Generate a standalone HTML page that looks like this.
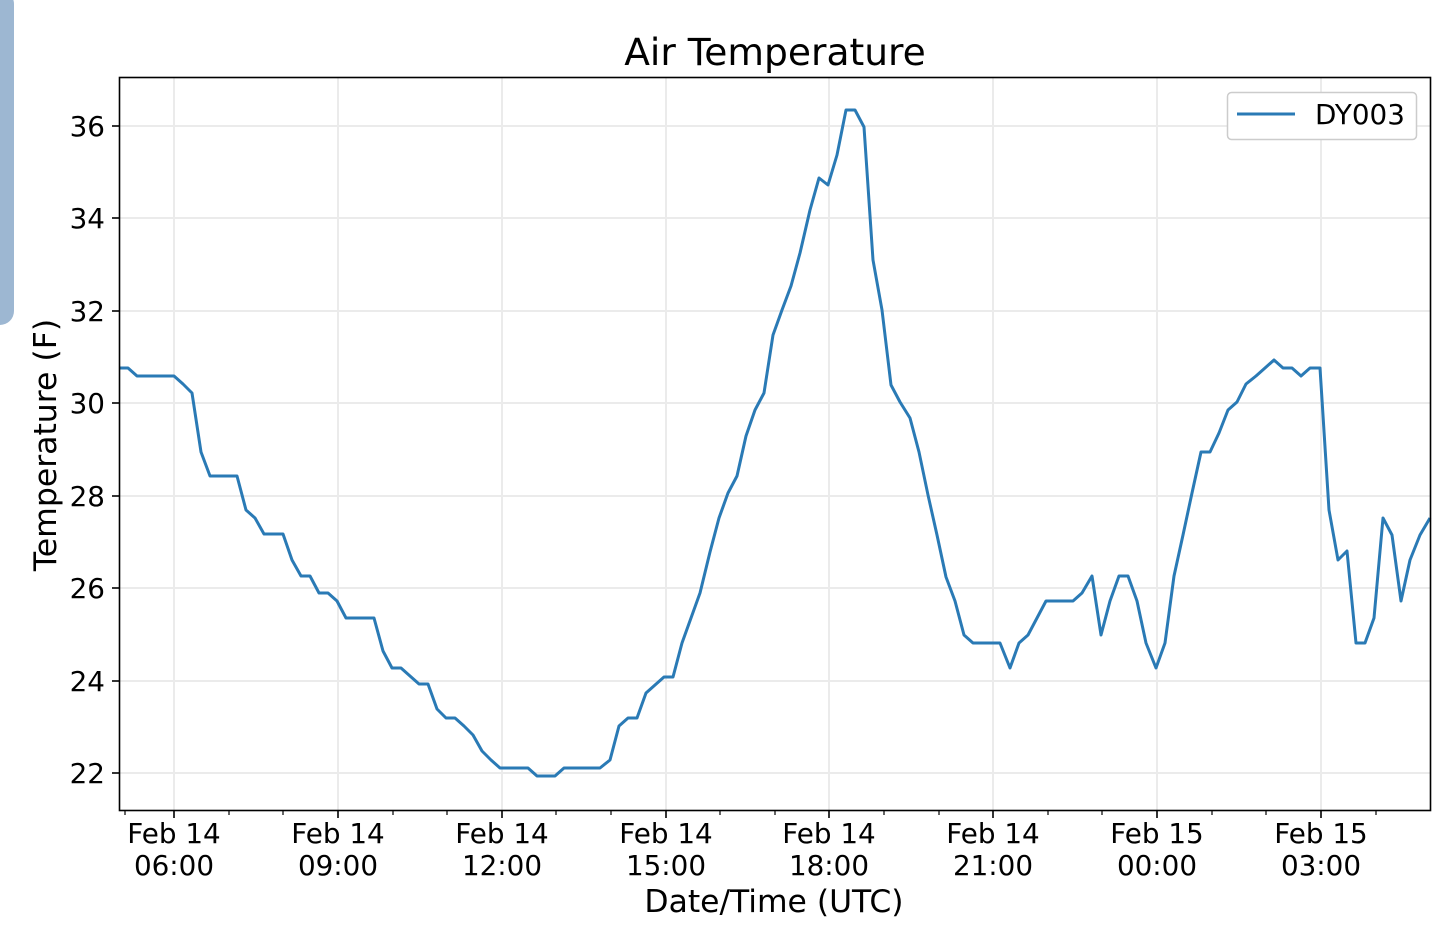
<!DOCTYPE html>
<html><head><meta charset="utf-8"><style>body{margin:0;background:#fff}svg{display:block}</style></head>
<body>
<svg width="1434" height="939" viewBox="0 0 1434 939" xmlns="http://www.w3.org/2000/svg" font-family="'DejaVu Sans','Liberation Sans',sans-serif">
<rect x="-20" y="-10" width="34" height="335" rx="14" fill="#9db7d2"/>
<g stroke="#ebebeb" stroke-width="2">
<line x1="120" x2="1430" y1="126" y2="126"/><line x1="120" x2="1430" y1="218" y2="218"/><line x1="120" x2="1430" y1="311" y2="311"/><line x1="120" x2="1430" y1="403" y2="403"/><line x1="120" x2="1430" y1="496" y2="496"/><line x1="120" x2="1430" y1="588" y2="588"/><line x1="120" x2="1430" y1="681" y2="681"/><line x1="120" x2="1430" y1="773" y2="773"/>
<line y1="78" y2="810" x1="174" x2="174"/><line y1="78" y2="810" x1="338" x2="338"/><line y1="78" y2="810" x1="502" x2="502"/><line y1="78" y2="810" x1="666" x2="666"/><line y1="78" y2="810" x1="829" x2="829"/><line y1="78" y2="810" x1="993" x2="993"/><line y1="78" y2="810" x1="1157" x2="1157"/><line y1="78" y2="810" x1="1321" x2="1321"/>
</g>
<polyline fill="none" stroke="#2a7ab5" stroke-width="3" stroke-linejoin="round" points="119,368 128,368 137,376 146,376 155,376 164,376 174,376 183,384 192,393 201,452 210,476 219,476 228,476 237,476 246,510 255,518 264,534 274,534 283,534 292,560 301,576 310,576 319,593 328,593 337,601 346,618 355,618 364,618 374,618 383,651 392,668 401,668 410,676 419,684 428,684 437,709 446,718 455,718 464,726 473,735 482,751 491,760 500,768 510,768 519,768 528,768 537,776 546,776 555,776 564,768 573,768 582,768 591,768 600,768 610,760 619,726 628,718 637,718 646,693 655,685 664,677 673,677 682,643 691,618 700,593 710,552 719,518 728,493 737,476 746,436 755,410 764,393 773,335 782,310 791,286 800,253 810,210 819,178 828,185 837,155 846,110 855,110 864,127 873,260 882,310 891,385 900,402 910,418 919,452 928,495 937,535 946,577 955,601 964,635 973,643 982,643 991,643 1000,643 1010,668 1019,643 1028,635 1037,618 1046,601 1055,601 1064,601 1073,601 1082,593 1092,576 1101,635 1110,601 1119,576 1128,576 1137,601 1146,643 1156,668 1165,643 1174,576 1183,535 1192,493 1201,452 1210,452 1219,433 1228,410 1237,402 1246,384 1256,376 1265,368 1274,360 1283,368 1292,368 1301,376 1310,368 1320,368 1329,510 1338,560 1347,551 1356,643 1365,643 1374,618 1383,518 1392,535 1401,601 1410,560 1420,535 1430,518"/>
<rect x="119.5" y="77.5" width="1311" height="733" fill="none" stroke="#000" stroke-width="1.6"/>
<g stroke="#000" stroke-width="1.6">
<line x1="112" x2="119" y1="126" y2="126"/><line x1="112" x2="119" y1="218" y2="218"/><line x1="112" x2="119" y1="311" y2="311"/><line x1="112" x2="119" y1="403" y2="403"/><line x1="112" x2="119" y1="496" y2="496"/><line x1="112" x2="119" y1="588" y2="588"/><line x1="112" x2="119" y1="681" y2="681"/><line x1="112" x2="119" y1="773" y2="773"/>
<line y1="811" y2="818" x1="174" x2="174"/><line y1="811" y2="818" x1="338" x2="338"/><line y1="811" y2="818" x1="502" x2="502"/><line y1="811" y2="818" x1="666" x2="666"/><line y1="811" y2="818" x1="829" x2="829"/><line y1="811" y2="818" x1="993" x2="993"/><line y1="811" y2="818" x1="1157" x2="1157"/><line y1="811" y2="818" x1="1321" x2="1321"/>
</g>
<g stroke="#000" stroke-width="1.2">
<line y1="811" y2="815" x1="229" x2="229"/><line y1="811" y2="815" x1="283" x2="283"/><line y1="811" y2="815" x1="393" x2="393"/><line y1="811" y2="815" x1="447" x2="447"/><line y1="811" y2="815" x1="556" x2="556"/><line y1="811" y2="815" x1="611" x2="611"/><line y1="811" y2="815" x1="720" x2="720"/><line y1="811" y2="815" x1="775" x2="775"/><line y1="811" y2="815" x1="884" x2="884"/><line y1="811" y2="815" x1="939" x2="939"/><line y1="811" y2="815" x1="1048" x2="1048"/><line y1="811" y2="815" x1="1102" x2="1102"/><line y1="811" y2="815" x1="1212" x2="1212"/><line y1="811" y2="815" x1="1266" x2="1266"/><line y1="811" y2="815" x1="1376" x2="1376"/><line y1="811" y2="815" x1="125" x2="125"/>
</g>
<g font-size="27.8" fill="#000" text-anchor="end">
<text x="105" y="136">36</text><text x="105" y="228">34</text><text x="105" y="321">32</text><text x="105" y="413">30</text><text x="105" y="506">28</text><text x="105" y="598">26</text><text x="105" y="691">24</text><text x="105" y="783">22</text>
</g>
<g font-size="27.8" fill="#000" text-anchor="middle">
<text x="174" y="843">Feb 14</text><text x="174" y="875">06:00</text>
<text x="338" y="843">Feb 14</text><text x="338" y="875">09:00</text>
<text x="502" y="843">Feb 14</text><text x="502" y="875">12:00</text>
<text x="666" y="843">Feb 14</text><text x="666" y="875">15:00</text>
<text x="829" y="843">Feb 14</text><text x="829" y="875">18:00</text>
<text x="993" y="843">Feb 14</text><text x="993" y="875">21:00</text>
<text x="1157" y="843">Feb 15</text><text x="1157" y="875">00:00</text>
<text x="1321" y="843">Feb 15</text><text x="1321" y="875">03:00</text>
<text x="774" y="912" font-size="31.4">Date/Time (UTC)</text>
<text x="775" y="65" font-size="37.6">Air Temperature</text>
<text transform="translate(56,445) rotate(-90)" font-size="31.5">Temperature (F)</text>
</g>
<rect x="1227.5" y="92.5" width="189" height="47" rx="4" fill="#fff" stroke="#ccc" stroke-width="1.5"/>
<line x1="1237" x2="1295" y1="114" y2="114" stroke="#2a7ab5" stroke-width="3"/>
<text x="1315" y="124" font-size="27.8" fill="#000">DY003</text>
</svg>
</body></html>
